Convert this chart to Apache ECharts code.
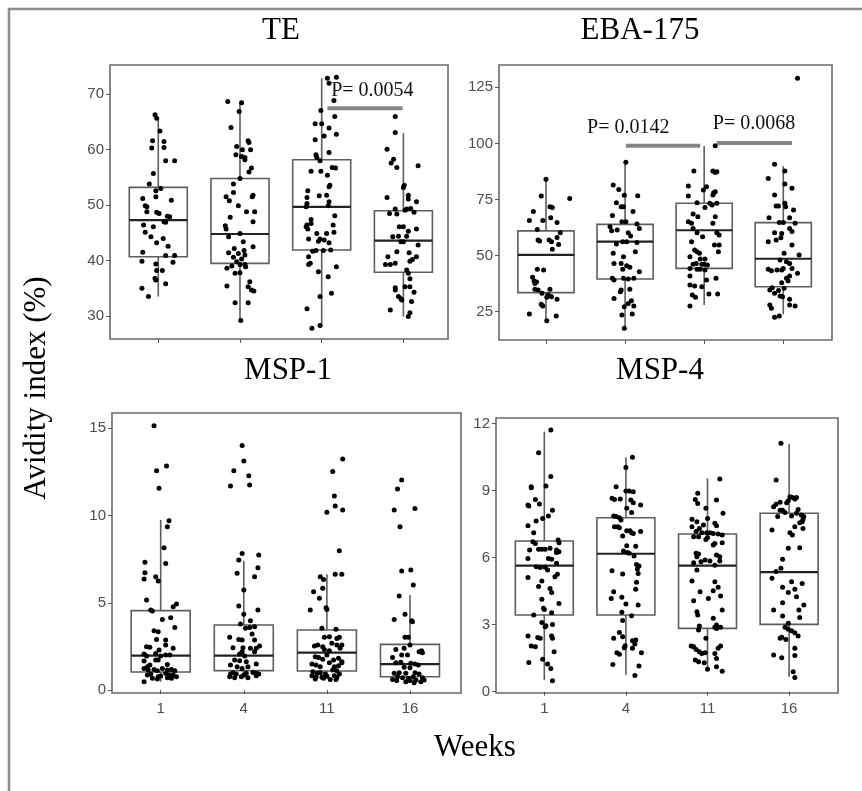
<!DOCTYPE html>
<html>
<head>
<meta charset="utf-8">
<script src="https://cdn.jsdelivr.net/npm/echarts@6/dist/echarts.min.js"></script>
<style>
html,body{margin:0;padding:0;background:#fff;}
#chart{width:862px;height:791px;}
</style>
</head>
<body>
<div id="chart"></div>
<script>
// ---------------- DATA ----------------
const weeks = ['1', '4', '11', '16'];
const panelTitles = ['TE', 'EBA-175', 'MSP-1', 'MSP-4'];

const TE_TICKS = [30, 40, 50, 60, 70];
const EBA_TICKS = [25, 50, 75, 100, 125];
const MSP1_TICKS = [0, 5, 10, 15];
const MSP4_TICKS = [0, 3, 6, 9, 12];

// box stats per week: [lower whisker, Q1, median, Q3, upper whisker]
const TE_BOX = [[33.5, 40.7, 47.3, 53.2, 65.7], [29.0, 39.5, 44.8, 54.8, 68.7], [28.1, 41.9, 49.7, 58.2, 72.9], [29.9, 37.9, 43.6, 49.0, 63.0]];
const EBA_BOX = [[20.5, 33.5, 50.3, 61.0, 84.0], [17.6, 39.6, 56.2, 63.9, 91.9], [28.0, 44.3, 61.3, 73.3, 98.8], [23.8, 36.1, 48.6, 64.7, 89.9]];
const MSP1_BOX = [[0.48, 1.03, 1.97, 4.55, 9.75], [0.70, 1.11, 1.97, 3.73, 7.41], [0.63, 1.09, 2.14, 3.44, 6.63], [0.42, 0.76, 1.49, 2.62, 5.45]];
const MSP4_BOX = [[0.52, 3.43, 5.64, 6.74, 11.63], [0.75, 3.43, 6.17, 7.78, 10.48], [0.97, 2.83, 5.64, 7.05, 9.54], [0.67, 3.01, 5.35, 7.98, 11.08]];

// individual points: [jitter offset from week position, avidity index]
const TE_W1 = [[-0.04,66.3],[-0.02,65.7],[0.02,63.4],[-0.07,61.6],[0.07,61.5],[-0.08,60.3],[0.07,60.4],[0.09,58.0],[0.2,58.0],[-0.06,55.7],[-0.11,53.8],[0.03,53.0],[-0.03,52.6],[-0.03,51.5],[-0.19,51.2],[0.16,50.9],[-0.16,49.9],[-0.14,49.7],[-0.14,48.8],[-0.02,48.7],[0.01,48.5],[0.11,48.0],[0.14,47.9],[0.07,47.0],[0.09,46.9],[-0.18,46.4],[-0.06,46.1],[-0.16,45.1],[-0.09,44.3],[0.06,44.0],[-0.02,43.2],[0.12,42.6],[-0.19,41.5],[0.09,40.9],[0.2,40.9],[-0.2,39.9],[0.18,39.7],[-0.03,39.4],[-0.02,38.2],[0.05,38.2],[-0.04,36.8],[-0.03,36.5],[0.09,35.8],[-0.2,35.0],[-0.12,33.5]];
const TE_W2 = [[-0.15,68.7],[0.02,68.5],[-0.01,66.9],[-0.11,64.0],[0.10,61.6],[0.11,61.3],[-0.04,60.6],[0.03,60.0],[0.13,60.0],[-0.05,59.1],[0.02,58.8],[0.06,58.6],[0.06,58.2],[0.14,56.7],[0.11,56.0],[0,54.8],[-0.08,53.8],[-0.08,52.3],[-0.17,51.5],[0.16,51.8],[0.15,51.5],[-0.13,50.8],[-0.02,49.9],[0.08,48.8],[0.18,48.8],[-0.12,47.8],[0.16,47.0],[-0.18,46.3],[-0.17,45.7],[0,44.9],[-0.14,44.3],[0.04,43.4],[-0.07,42.2],[0.16,42.5],[0.05,41.8],[-0.14,41.4],[-0.02,41.3],[0.06,41.0],[-0.08,40.6],[0.02,40.3],[-0.04,39.8],[0,39.3],[0.06,39.3],[-0.10,39.0],[-0.16,38.6],[0.07,38.9],[0,37.8],[-0.06,37.7],[0.12,36.2],[0.10,35.3],[0.14,34.7],[0.17,34.5],[-0.16,35.4],[-0.06,32.4],[0.10,32.4],[0.01,29.2]];
const TE_W3 = [[0.07,72.9],[0.18,73.1],[0.09,72.0],[0.15,68.9],[-0.01,67.1],[0.16,66.0],[-0.08,64.7],[0,64.7],[0.09,63.9],[0.18,62.8],[0.03,62.5],[-0.08,61.8],[0.09,59.5],[-0.07,59.1],[-0.06,58.6],[-0.02,58.0],[0.13,56.8],[0.17,56.7],[-0.13,56.1],[-0.01,56.1],[0.07,55.4],[0.10,53.6],[0.09,53.3],[-0.17,52.6],[0.06,51.8],[-0.03,51.7],[-0.18,51.4],[0.09,50.6],[-0.18,50.3],[-0.19,49.7],[0.08,49.9],[0.16,48.1],[-0.13,47.4],[-0.13,46.7],[-0.18,46.4],[-0.19,46.1],[-0.17,45.7],[0.14,46.4],[0.15,45.1],[-0.06,44.9],[0.06,44.9],[-0.16,43.9],[0.03,43.7],[-0.04,43.5],[-0.02,43.9],[0.09,43.2],[-0.07,41.8],[-0.11,41.7],[0.02,41.8],[0.11,41.9],[-0.16,40.7],[-0.14,39.5],[-0.16,39.3],[0.18,38.9],[-0.04,38.0],[0.08,37.1],[-0.02,33.5],[0.12,34.1],[-0.18,31.3],[-0.02,28.3],[-0.12,27.8]];
const TE_W4 = [[-0.10,66.0],[-0.10,63.1],[-0.20,60.1],[-0.12,58.3],[-0.15,57.6],[0.18,57.1],[-0.08,56.8],[0.01,53.6],[0,53.2],[0.06,51.8],[-0.20,51.4],[0.06,51.1],[0.16,50.6],[-0.10,49.3],[0.09,49.4],[0.02,49.1],[0.04,49.3],[-0.17,48.5],[-0.08,48.4],[0.13,48.7],[-0.05,46.1],[0,46.1],[0.16,45.7],[0.06,45.3],[-0.13,44.3],[-0.06,44.4],[0.04,44.4],[-0.03,43.4],[0,43.4],[0.18,42.8],[-0.08,41.6],[0.07,41.4],[-0.19,40.7],[0.11,40.2],[0.08,39.9],[-0.22,39.3],[-0.16,39.3],[-0.10,39.5],[0.16,40.7],[0.04,38.3],[0.06,37.7],[0.08,36.7],[-0.10,35.1],[-0.10,34.7],[0.02,35.3],[0.08,35.3],[0.13,34.3],[-0.06,33.5],[-0.03,33.1],[-0.02,32.9],[0.10,32.6],[-0.16,31.1],[0.08,30.6],[0.06,29.9]];

const EBA_W1 = [[0,84.0],[-0.06,76.6],[-0.16,69.6],[0.05,71.8],[0.08,71.4],[0.30,75.5],[-0.21,65.6],[-0.04,65.6],[0.14,64.7],[0.06,66.9],[-0.11,61.6],[0.18,60.2],[-0.10,56.9],[-0.08,56.5],[0.04,56.9],[0.07,56.2],[0.14,58.1],[0.16,55.0],[0.08,52.8],[-0.11,43.9],[-0.03,43.6],[-0.17,40.3],[-0.15,38.7],[-0.12,38.2],[-0.14,37.6],[-0.14,35.0],[-0.10,34.7],[0.05,35.0],[-0.05,33.2],[0.03,32.4],[0.07,31.7],[0.01,31.4],[0.14,30.5],[-0.06,28.3],[-0.04,27.5],[-0.21,24.0],[0.13,23.1],[0.01,21.0]];
const EBA_W2 = [[0.01,91.6],[-0.15,81.5],[-0.08,79.5],[0.16,76.7],[-0.01,76.9],[-0.11,73.6],[-0.05,71.8],[-0.02,71.8],[0.10,69.6],[-0.16,67.9],[0.01,65.1],[-0.04,65.1],[-0.19,62.9],[-0.17,61.1],[-0.10,61.4],[0.15,64.1],[0.18,62.1],[0.04,60.2],[0.07,58.7],[-0.03,56.2],[0.02,56.2],[0.15,55.8],[-0.11,55.2],[-0.15,51.0],[0.13,51.7],[-0.02,49.5],[-0.14,46.5],[-0.05,46.5],[0.02,45.5],[0.06,44.8],[0.18,42.8],[-0.03,43.9],[-0.16,39.9],[-0.14,39.1],[-0.02,39.9],[0.04,39.6],[0.11,39.9],[-0.05,34.7],[-0.06,33.9],[0.06,35.0],[-0.14,30.9],[0.08,29.9],[0.04,28.7],[0.11,27.5],[-0.01,27.2],[-0.04,23.5],[0.09,24.0],[-0.01,17.6]];
const EBA_W3 = [[0.14,99.0],[-0.13,87.7],[0.11,87.7],[0.16,87.4],[0.14,87.0],[-0.20,81.0],[0.03,80.7],[-0.01,79.2],[0.12,78.0],[0.11,77.0],[0.14,78.5],[-0.20,76.6],[-0.09,73.6],[0.07,73.3],[0.10,72.5],[0.16,73.3],[0.01,71.4],[-0.08,67.3],[-0.14,68.5],[0.14,67.3],[0.11,64.4],[-0.20,65.1],[-0.16,64.4],[-0.14,62.1],[-0.09,60.2],[0.16,60.2],[-0.02,58.4],[0.19,59.2],[-0.16,56.2],[0.13,54.7],[0.19,54.7],[-0.12,52.5],[-0.09,51.7],[-0.06,51.0],[0.18,51.7],[-0.18,49.5],[-0.05,48.5],[0.01,48.5],[-0.10,46.5],[-0.03,46.2],[0,46.2],[-0.14,46.2],[0.04,45.8],[-0.18,44.3],[-0.09,43.9],[-0.05,43.9],[0.01,43.6],[-0.18,40.9],[0.15,39.9],[0.03,39.1],[-0.12,36.4],[-0.18,36.9],[-0.03,36.1],[-0.15,32.4],[-0.11,31.4],[0.06,32.9],[0.17,32.9],[-0.18,27.5]];
const EBA_W4 = [[-0.11,90.7],[-0.19,84.4],[0.02,87.7],[0.02,81.9],[0.11,80.0],[-0.11,77.0],[-0.09,72.1],[-0.06,72.1],[0.03,71.8],[0.13,70.3],[0.02,73.3],[-0.18,66.9],[0.08,66.9],[0,64.7],[-0.05,64.7],[0.15,64.4],[0.08,62.1],[0.11,60.7],[-0.11,60.2],[-0.02,59.9],[-0.19,56.2],[-0.09,56.9],[-0.03,58.0],[0.11,54.7],[0.20,50.3],[0.01,51.0],[-0.04,48.0],[0.04,47.3],[0.08,46.5],[-0.19,43.9],[-0.15,43.3],[-0.08,43.6],[0,44.3],[-0.02,43.6],[0.11,44.3],[0.18,42.1],[0.08,40.9],[0.04,39.9],[0.06,38.8],[-0.02,37.9],[-0.14,35.7],[-0.17,34.7],[0.01,35.4],[-0.06,34.4],[-0.11,33.2],[-0.04,32.0],[-0.01,31.7],[0.08,30.5],[0.08,28.0],[0.15,27.5],[-0.17,28.0],[-0.15,26.5],[-0.05,23.1],[-0.11,22.5],[0.18,129.0]];

const MSP1_W1 = [[-0.08,15.15],[-0.05,12.57],[0.07,12.84],[-0.02,11.56],[0.10,9.71],[0.08,9.36],[0.04,8.16],[0.06,7.26],[-0.19,7.32],[-0.19,6.73],[-0.20,6.36],[-0.06,6.50],[-0.03,6.25],[-0.17,5.16],[0.19,4.93],[0.15,4.78],[-0.12,4.59],[-0.10,4.53],[0.02,4.05],[0.12,4.15],[0.17,3.59],[-0.08,3.40],[-0.03,3.34],[0.06,2.87],[-0.05,2.90],[-0.17,2.48],[-0.13,2.45],[-0.02,2.29],[0.15,2.39],[0.06,2.58],[-0.20,2.06],[-0.17,1.95],[-0.06,2.10],[0,1.95],[0.06,2.01],[0.11,2.01],[-0.06,1.72],[-0.03,1.72],[-0.20,1.66],[-0.13,1.43],[-0.16,1.34],[0.08,1.47],[-0.20,1.24],[-0.15,1.15],[-0.08,1.18],[-0.04,1.11],[0.02,1.24],[0.08,1.15],[0.13,1.18],[0.17,1.11],[-0.16,0.86],[-0.12,0.92],[-0.03,0.76],[0,0.80],[0.06,0.96],[0.10,0.86],[0.15,0.86],[0.19,0.76],[-0.10,0.67],[-0.04,0.63],[0.08,0.71],[0.13,0.67],[-0.20,0.48]];
const MSP1_W2 = [[-0.02,14.01],[0,13.13],[-0.12,12.57],[0.06,12.29],[-0.16,11.70],[0.07,11.75],[-0.02,7.83],[0.18,7.74],[-0.06,7.45],[0.17,7.01],[0.13,6.50],[-0.08,6.69],[0,5.73],[-0.06,4.82],[0.17,4.59],[0,4.34],[0.08,3.97],[-0.04,3.78],[0.02,3.54],[0.07,3.59],[0.13,3.63],[-0.17,3.02],[-0.02,2.87],[-0.06,2.90],[0.10,3.21],[0.13,2.87],[0.19,2.52],[0.15,2.39],[-0.13,2.43],[-0.01,2.43],[0.08,2.39],[-0.05,2.06],[-0.02,2.20],[0.01,1.95],[0.13,2.20],[-0.11,1.72],[-0.05,1.68],[0.03,1.62],[0.15,1.49],[-0.16,1.43],[-0.08,1.34],[-0.02,1.24],[0.05,1.34],[-0.13,0.99],[-0.09,0.92],[0,0.86],[0.03,0.96],[0.11,1.01],[0.15,0.96],[-0.17,0.76],[-0.11,0.71],[-0.03,0.76],[0.05,0.71],[0.15,0.82],[0.18,0.92],[-0.16,0.92]];
const MSP1_W3 = [[0.19,13.24],[0.07,12.52],[0.09,11.12],[0.10,10.55],[0.19,10.32],[0,10.19],[0.15,7.99],[0.10,6.63],[0.18,6.63],[-0.08,6.50],[-0.04,6.34],[-0.16,5.64],[-0.05,5.83],[-0.09,5.26],[-0.01,4.72],[0,4.62],[-0.20,4.59],[-0.06,3.54],[0.11,3.48],[-0.03,3.02],[0.03,3.06],[0.12,2.96],[0.15,3.02],[-0.15,2.52],[-0.11,2.58],[-0.05,2.48],[0.06,2.68],[0.12,2.58],[0.18,2.58],[-0.03,2.33],[0.03,2.25],[0.16,2.39],[-0.14,1.91],[-0.10,1.87],[-0.05,1.76],[0,2.01],[0.08,1.72],[0.14,1.82],[0.18,1.62],[-0.18,1.49],[-0.13,1.43],[-0.08,1.34],[0.03,1.57],[0.09,1.34],[0.14,1.39],[0.18,1.57],[-0.17,1.05],[-0.12,0.96],[-0.08,0.99],[-0.02,0.92],[0.07,1.15],[0.12,1.11],[0.15,0.92],[-0.18,0.82],[-0.13,0.76],[-0.06,0.73],[0,0.80],[0.09,0.82],[0.12,0.73],[-0.14,0.63],[-0.04,0.67],[0.04,0.61],[0.11,0.61]];
const MSP1_W4 = [[-0.10,12.04],[-0.15,11.52],[-0.19,10.32],[0.06,10.41],[-0.12,9.36],[-0.10,6.82],[0.01,6.88],[0.04,6.02],[-0.13,5.39],[-0.06,4.34],[-0.19,4.05],[0.02,3.97],[0.03,3.92],[-0.06,3.02],[-0.02,3.02],[0,2.58],[-0.17,2.33],[-0.07,2.39],[0.11,2.20],[0.14,2.25],[0.15,2.14],[-0.10,2.01],[-0.03,2.01],[-0.21,1.87],[-0.17,1.57],[-0.11,1.59],[0.01,1.53],[0.06,1.49],[0.10,1.43],[-0.07,1.30],[0,1.28],[-0.19,0.96],[-0.13,0.99],[-0.05,0.96],[0.06,0.99],[0.11,0.92],[-0.15,0.76],[-0.09,0.71],[-0.02,0.67],[0.04,0.76],[0.15,0.71],[-0.21,0.61],[-0.16,0.54],[-0.05,0.48],[0,0.54],[0.07,0.57],[0.13,0.48],[0.17,0.57],[0.05,0.42]];

const MSP4_W1 = [[0.08,11.70],[-0.07,10.69],[0.08,9.62],[0.02,9.20],[-0.16,9.17],[-0.16,9.12],[-0.20,8.35],[-0.19,8.30],[-0.11,8.60],[-0.06,8.39],[0.10,8.12],[0.05,7.86],[-0.10,7.63],[-0.02,7.75],[-0.20,7.42],[-0.13,7.11],[0.17,6.78],[0.18,6.66],[-0.14,6.71],[-0.11,6.63],[-0.07,6.37],[-0.03,6.37],[0.01,6.37],[0.07,6.41],[0.15,6.34],[0.15,6.22],[0.18,6.26],[-0.18,6.34],[-0.20,5.96],[0.05,5.96],[0.09,5.92],[0.15,5.74],[-0.10,5.59],[-0.05,5.55],[0.01,5.56],[0.04,5.44],[0.16,5.25],[0.13,5.14],[-0.20,5.11],[-0.03,4.95],[-0.07,4.70],[0.07,4.62],[0.09,4.44],[-0.03,4.14],[0.18,3.95],[-0.01,3.73],[0,3.68],[-0.13,3.43],[0.09,3.53],[-0.03,3.10],[0.02,2.95],[0.10,3.01],[0.01,2.91],[-0.20,2.49],[-0.08,2.42],[-0.05,2.39],[0.09,2.49],[0.10,2.39],[-0.16,2.04],[-0.11,2.01],[0.12,1.79],[-0.02,1.45],[-0.19,1.31],[0.04,1.24],[0.08,1.04],[0.10,0.49]];
const MSP4_W2 = [[0.08,10.48],[0,10.03],[-0.12,9.17],[0,8.97],[0.04,8.97],[0.09,8.94],[-0.17,8.65],[-0.14,8.60],[-0.07,8.62],[0.06,8.57],[0.09,8.45],[0.18,8.35],[0.01,8.20],[0.07,8.01],[-0.15,7.86],[-0.12,7.83],[-0.08,7.78],[-0.06,7.68],[-0.14,7.38],[-0.10,7.38],[-0.08,7.33],[0.01,7.20],[0.05,7.20],[0.07,7.11],[0.18,7.16],[-0.04,6.96],[0.09,7.08],[0.01,6.53],[-0.03,6.29],[0.02,6.23],[0.04,6.19],[0.12,6.51],[0.10,6.07],[0.13,5.69],[0.16,5.62],[0.15,5.29],[0.14,5.49],[-0.17,5.41],[-0.04,5.26],[0.13,4.89],[-0.15,4.47],[0.12,4.58],[-0.18,4.17],[-0.05,4.22],[0,3.92],[0.15,3.88],[-0.05,3.55],[0.07,3.40],[-0.04,3.18],[-0.08,2.65],[-0.15,2.39],[-0.04,2.46],[0.08,2.28],[0.12,2.31],[0.11,2.13],[-0.01,2.06],[-0.02,1.97],[-0.11,1.74],[-0.08,1.68],[0.08,1.94],[0.19,1.74],[0.16,1.15],[-0.16,1.22],[0.11,0.72]];
const MSP4_W3 = [[0.15,9.51],[-0.12,8.87],[-0.15,8.60],[-0.12,8.42],[0.11,8.57],[-0.02,8.20],[0.19,7.98],[-0.19,7.71],[-0.13,7.60],[0,7.75],[0.09,7.53],[0.11,7.42],[-0.05,7.45],[-0.10,7.30],[-0.19,7.38],[-0.14,7.16],[-0.07,7.11],[-0.01,7.11],[0.03,7.11],[0.07,7.08],[0.13,7.05],[0.18,7.01],[-0.11,6.93],[-0.17,6.93],[0,6.90],[-0.02,6.81],[0.09,6.63],[0.07,6.56],[0.18,6.66],[-0.14,6.19],[-0.11,6.16],[-0.13,6.04],[0.11,6.11],[0.15,6.04],[-0.17,5.77],[-0.08,5.81],[-0.03,5.89],[0.03,5.84],[-0.13,5.44],[0.15,5.84],[0.09,5.66],[-0.19,4.95],[0.09,4.92],[0.13,4.67],[-0.09,4.47],[0.07,4.52],[0.16,4.28],[0.01,4.17],[-0.17,4.07],[0.18,3.65],[-0.13,3.58],[-0.12,3.43],[0.07,3.28],[0.11,2.98],[0.09,2.88],[-0.10,2.94],[-0.11,2.76],[0.11,2.83],[0.16,2.88],[-0.02,2.39],[-0.20,2.04],[-0.17,2.01],[0.16,2.04],[0.13,1.94],[-0.14,1.89],[-0.10,1.79],[-0.07,1.71],[-0.03,1.74],[0.09,1.71],[0.11,1.49],[-0.15,1.42],[-0.11,1.34],[-0.04,1.30],[0.11,1.12],[0.18,0.92],[0,1.00]];
const MSP4_W4 = [[-0.10,11.11],[-0.16,9.47],[0.01,8.72],[0.04,8.69],[0.07,8.62],[0.09,8.69],[-0.01,8.54],[-0.03,8.45],[-0.11,8.47],[-0.16,8.38],[-0.19,8.27],[-0.11,8.12],[-0.08,8.12],[-0.05,8.01],[0.03,7.86],[0.09,7.98],[0.15,7.90],[-0.14,7.83],[0.17,7.71],[0.16,7.60],[0.13,7.56],[0.11,8.15],[0.18,7.83],[0.07,7.38],[-0.21,7.23],[0.17,7.30],[0.01,7.11],[0.04,7.01],[-0.01,6.41],[0.13,6.44],[-0.08,5.92],[-0.10,5.52],[-0.16,5.37],[-0.21,5.07],[0.03,4.92],[0.16,4.84],[-0.08,4.67],[0.07,4.58],[-0.01,4.44],[0.09,4.25],[-0.08,3.98],[0.18,3.88],[-0.19,3.65],[0.12,3.65],[-0.08,3.38],[0.13,3.32],[-0.01,3.06],[-0.05,2.88],[-0.01,2.79],[0.03,2.73],[0.07,2.64],[-0.09,2.43],[-0.11,2.39],[-0.04,2.34],[0.11,2.49],[-0.19,1.64],[-0.09,1.52],[0.07,1.94],[0.07,1.62],[0.05,0.89],[0.07,0.63]];

// significance annotations (data units): bar from..to at y, label anchored at labelX/labelY
const TE_PVALUES = [{ text: 'P= 0.0054', from: 3.07, to: 3.99, y: 67.5, labelX: 3.62, labelY: 70.6 }];
const EBA_PVALUES = [
  { text: 'P= 0.0142', from: 2.01, to: 2.95, y: 99.0, labelX: 2.04, labelY: 107.1 },
  { text: 'P= 0.0068', from: 3.16, to: 4.11, y: 100.2, labelX: 3.63, labelY: 108.8 }
];

// ---------------- LAYOUT / STYLE ----------------
const SERIF = 'Liberation Serif, Times New Roman, serif';
const SANS = 'Liberation Sans, Arial, sans-serif';
const BOX_WIDTH = 0.71;

const panels = [
  { grid: { left: 110, top: 65, width: 338, height: 274 }, x: [0.409, 4.546], y: [25.85, 75.29], ticks: TE_TICKS, box: TE_BOX, weeksPts: [TE_W1, TE_W2, TE_W3, TE_W4], pv: TE_PVALUES, showX: false },
  { grid: { left: 499, top: 65, width: 333, height: 275 }, x: [0.406, 4.616], y: [12.39, 134.94], ticks: EBA_TICKS, box: EBA_BOX, weeksPts: [EBA_W1, EBA_W2, EBA_W3, EBA_W4], pv: EBA_PVALUES, showX: false },
  { grid: { left: 112, top: 413, width: 349, height: 280 }, x: [0.414, 4.614], y: [-0.17, 15.88], ticks: MSP1_TICKS, box: MSP1_BOX, weeksPts: [MSP1_W1, MSP1_W2, MSP1_W3, MSP1_W4], pv: [], showX: true },
  { grid: { left: 496, top: 418, width: 342, height: 275 }, x: [0.408, 4.599], y: [-0.058, 12.24], ticks: MSP4_TICKS, box: MSP4_BOX, weeksPts: [MSP4_W1, MSP4_W2, MSP4_W3, MSP4_W4], pv: [], showX: true }
];

const weekPos = weeks.map((w, i) => i + 1);

function renderBox(params, api) {
  const x = api.value(0);
  const lo = api.coord([x, api.value(1)]);
  const q1 = api.coord([x, api.value(2)]);
  const md = api.coord([x, api.value(3)]);
  const q3 = api.coord([x, api.value(4)]);
  const hi = api.coord([x, api.value(5)]);
  const w = api.size([BOX_WIDTH, 0])[0];
  const cx = lo[0];
  const line = { stroke: '#5e5e5e', lineWidth: 1.6 };
  return {
    type: 'group',
    children: [
      { type: 'line', shape: { x1: cx, y1: hi[1], x2: cx, y2: q3[1] }, style: line },
      { type: 'line', shape: { x1: cx, y1: q1[1], x2: cx, y2: lo[1] }, style: line },
      { type: 'rect', shape: { x: cx - w / 2, y: q3[1], width: w, height: q1[1] - q3[1] }, style: { stroke: '#5e5e5e', lineWidth: 1.6, fill: 'rgba(0,0,0,0)' } },
      { type: 'line', shape: { x1: cx - w / 2, y1: md[1], x2: cx + w / 2, y2: md[1] }, style: { stroke: '#222', lineWidth: 2.2 } }
    ]
  };
}

function makePvRenderer(list) {
  return function (params, api) {
    const item = list[params.dataIndex];
    const a = api.coord([api.value(0), api.value(2)]);
    const b = api.coord([api.value(1), api.value(2)]);
    const l = api.coord([api.value(3), api.value(4)]);
    return {
      type: 'group',
      children: [
        { type: 'line', shape: { x1: a[0], y1: a[1], x2: b[0], y2: b[1] }, style: { stroke: '#858585', lineWidth: 4 } },
        { type: 'text', x: l[0], y: l[1], style: { text: item.text, font: '20px ' + SERIF, fill: '#111', align: 'center', verticalAlign: 'middle' } }
      ]
    };
  };
}

const grids = [], xAxes = [], yAxes = [], series = [];
panels.forEach((p, i) => {
  grids.push(Object.assign({ show: true, borderColor: '#6a6a6a', borderWidth: 1.6, backgroundColor: 'transparent', containLabel: false }, p.grid));
  xAxes.push({
    type: 'value', gridIndex: i, min: p.x[0], max: p.x[1],
    axisLine: { show: false }, splitLine: { show: false },
    axisTick: { show: true, customValues: weekPos, length: 4, lineStyle: { color: '#555', width: 1 } },
    axisLabel: { show: p.showX, customValues: weekPos, formatter: v => weeks[Math.round(v) - 1], fontFamily: SANS, fontSize: 15, color: '#4d4d4d', margin: 8 }
  });
  yAxes.push({
    type: 'value', gridIndex: i, min: p.y[0], max: p.y[1],
    axisLine: { show: false }, splitLine: { show: false },
    axisTick: { show: true, customValues: p.ticks, length: 4, lineStyle: { color: '#555', width: 1 } },
    axisLabel: { customValues: p.ticks, fontFamily: SANS, fontSize: 15, color: '#4d4d4d', margin: 6 }
  });
  series.push({
    type: 'custom', xAxisIndex: i, yAxisIndex: i, renderItem: renderBox,
    encode: { x: 0, y: [1, 2, 3, 4, 5] }, silent: true,
    data: p.box.map((b, k) => [k + 1].concat(b))
  });
  const pts = [];
  p.weeksPts.forEach((arr, k) => arr.forEach(d => pts.push([k + 1 + d[0], d[1]])));
  series.push({
    type: 'scatter', xAxisIndex: i, yAxisIndex: i, data: pts, symbolSize: 5,
    itemStyle: { color: '#000', opacity: 1 }, silent: true, z: 3
  });
  if (p.pv.length) {
    series.push({
      type: 'custom', xAxisIndex: i, yAxisIndex: i, renderItem: makePvRenderer(p.pv),
      encode: { x: [0, 1], y: 2 }, silent: true, clip: false, z: 4,
      data: p.pv.map(d => [d.from, d.to, d.y, d.labelX, d.labelY])
    });
  }
});

const titleFont = '31px ' + SERIF;
const graphic = [
  { type: 'rect', shape: { x: 9, y: 9, width: 900, height: 900 }, style: { stroke: '#8c8c8c', lineWidth: 2.5, fill: null }, silent: true },
  { type: 'text', x: 281, y: 31, style: { text: panelTitles[0], font: titleFont, fill: '#000', align: 'center', verticalAlign: 'middle' } },
  { type: 'text', x: 640, y: 31, style: { text: panelTitles[1], font: titleFont, fill: '#000', align: 'center', verticalAlign: 'middle' } },
  { type: 'text', x: 288, y: 371, style: { text: panelTitles[2], font: titleFont, fill: '#000', align: 'center', verticalAlign: 'middle' } },
  { type: 'text', x: 660, y: 371, style: { text: panelTitles[3], font: titleFont, fill: '#000', align: 'center', verticalAlign: 'middle' } },
  { type: 'text', x: 37, y: 388, rotation: Math.PI / 2, style: { text: 'Avidity index (%)', font: titleFont, fill: '#000', align: 'center', verticalAlign: 'middle' } },
  { type: 'text', x: 475, y: 748, style: { text: 'Weeks', font: titleFont, fill: '#000', align: 'center', verticalAlign: 'middle' } }
];

const chart = echarts.init(document.getElementById('chart'), null, { renderer: 'canvas' });
chart.setOption({
  animation: false,
  backgroundColor: '#fff',
  grid: grids, xAxis: xAxes, yAxis: yAxes, series: series, graphic: graphic
});
</script>
</body>
</html>
